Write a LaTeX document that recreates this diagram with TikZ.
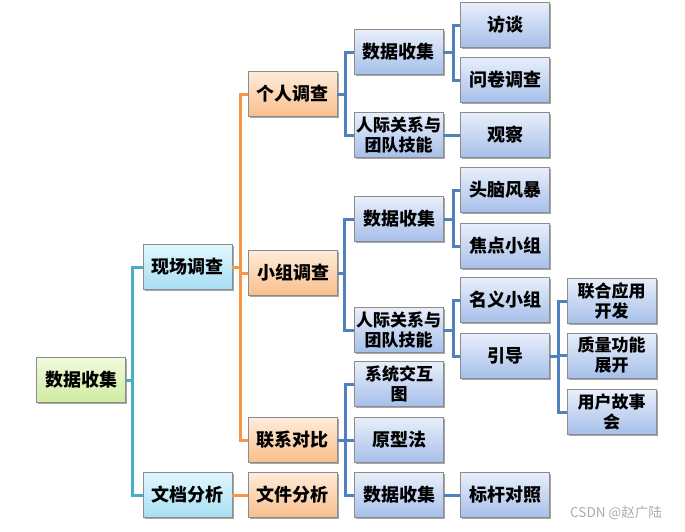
\documentclass[tikz,border=0pt]{standalone}
\usepackage{fontspec}
\setmainfont{Noto Sans CJK SC}
\usetikzlibrary{shadows}
\definecolor{lnteal}{RGB}{75,172,198}
\definecolor{lnorange}{RGB}{247,150,70}
\definecolor{lnblue}{RGB}{79,129,189}
\definecolor{bordergray}{RGB}{140,140,140}
\tikzset{
  box/.style={draw=bordergray, line width=0.6pt, minimum width=89pt, minimum height=45pt,
    inner sep=0pt, align=center, font=\fontsize{18}{20}\selectfont\bfseries,
    drop shadow={shadow xshift=1.5pt, shadow yshift=-1.5pt, opacity=0.35, fill=black}},
  rootbox/.style={box, top color={rgb,255:red,242;green,250;blue,222}, bottom color={rgb,255:red,206;green,236;blue,160}},
  cyanbox/.style={box, top color={rgb,255:red,226;green,247;blue,253}, bottom color={rgb,255:red,166;green,222;blue,243}},
  orangebox/.style={box, top color={rgb,255:red,254;green,236;blue,218}, bottom color={rgb,255:red,249;green,190;blue,140}},
  bluebox/.style={box, top color={rgb,255:red,232;green,239;blue,250}, bottom color={rgb,255:red,166;green,191;blue,234}},
  twoline/.style={font=\fontsize{17}{20}\selectfont\bfseries},
  conn/.style={line width=3pt, line join=miter},
  tconn/.style={conn, draw=lnteal},
  oconn/.style={conn, draw=lnorange},
  bconn/.style={conn, draw=lnblue}
}
\begin{document}
\begin{tikzpicture}[x=1pt,y=-1pt]
\useasboundingbox[fill=white] (0,0) rectangle (685,531);
% nodes
\node[rootbox] (root) at (81,380) {数据收集};
\node[cyanbox] (xc) at (187.5,267) {现场调查};
\node[cyanbox] (wd) at (187.5,495) {文档分析};
\node[orangebox] (gr) at (292.5,94) {个人调查};
\node[orangebox] (xz) at (293,273) {小组调查};
\node[orangebox] (lx) at (292.5,440) {联系对比};
\node[orangebox] (wj) at (292.5,495) {文件分析};
\node[bluebox] (sj1) at (398.5,52) {数据收集};
\node[bluebox,twoline] (rj1) at (398.5,135) {人际关系与\\团队技能};
\node[bluebox] (ft) at (505,25) {访谈};
\node[bluebox] (wq) at (505,80) {问卷调查};
\node[bluebox] (gc) at (505,135) {观察};
\node[bluebox] (sj2) at (399,219) {数据收集};
\node[bluebox,twoline] (rj2) at (398.5,330) {人际关系与\\团队技能};
\node[bluebox] (tn) at (505,190) {头脑风暴};
\node[bluebox] (jd) at (505,246) {焦点小组};
\node[bluebox] (my) at (505,300) {名义小组};
\node[bluebox] (yd) at (505,356) {引导};
\node[bluebox,twoline] (lh) at (611.5,301) {联合应用\\开发};
\node[bluebox,twoline] (zl) at (611.5,355.5) {质量功能\\展开};
\node[bluebox,twoline] (yh) at (611.5,412) {用户故事\\会};
\node[bluebox,twoline] (xt) at (399,384) {系统交互\\图};
\node[bluebox] (yx) at (399,440) {原型法};
\node[bluebox] (sj3) at (399,495) {数据收集};
\node[bluebox] (bg) at (505,495) {标杆对照};
% connectors
\draw[tconn] (root.east) -- ++(7,0) |- (xc.west);
\draw[tconn] (root.east) -- ++(7,0) |- (wd.west);
\draw[oconn] (xc.east) -- ++(8,0) |- (gr.west);
\draw[oconn] (xc.east) -- ++(8,0) |- (xz.west);
\draw[oconn] (xc.east) -- ++(8,0) |- (lx.west);
\draw[oconn] (wd.east) -- (wj.west);
\draw[bconn] (gr.east) -- ++(8,0) |- (sj1.west);
\draw[bconn] (gr.east) -- ++(8,0) |- (rj1.west);
\draw[bconn] (sj1.east) -- ++(10,0) |- (ft.west);
\draw[bconn] (sj1.east) -- ++(10,0) |- (wq.west);
\draw[bconn] (rj1.east) -- (gc.west);
\draw[bconn] (xz.east) -- ++(7,0) |- (sj2.west);
\draw[bconn] (xz.east) -- ++(7,0) |- (rj2.west);
\draw[bconn] (sj2.east) -- ++(10,0) |- (tn.west);
\draw[bconn] (sj2.east) -- ++(10,0) |- (jd.west);
\draw[bconn] (rj2.east) -- ++(10,0) |- (my.west);
\draw[bconn] (rj2.east) -- ++(10,0) |- (yd.west);
\draw[bconn] (yd.east) -- ++(9,0) |- (lh.west);
\draw[bconn] (yd.east) -- ++(9,0) |- (zl.west);
\draw[bconn] (yd.east) -- ++(9,0) |- (yh.west);
\draw[bconn] (lx.east) -- ++(8,0) |- (xt.west);
\draw[bconn] (lx.east) -- ++(8,0) |- (yx.west);
\draw[bconn] (lx.east) -- ++(8,0) |- (sj3.west);
\draw[bconn] (sj3.east) -- (bg.west);
\node[text=gray!65, font=\fontsize{13.5}{15}\selectfont, anchor=west, inner sep=0pt] (wm) at (570,513) {CSDN @赵广陆};
\end{tikzpicture}
\end{document}
